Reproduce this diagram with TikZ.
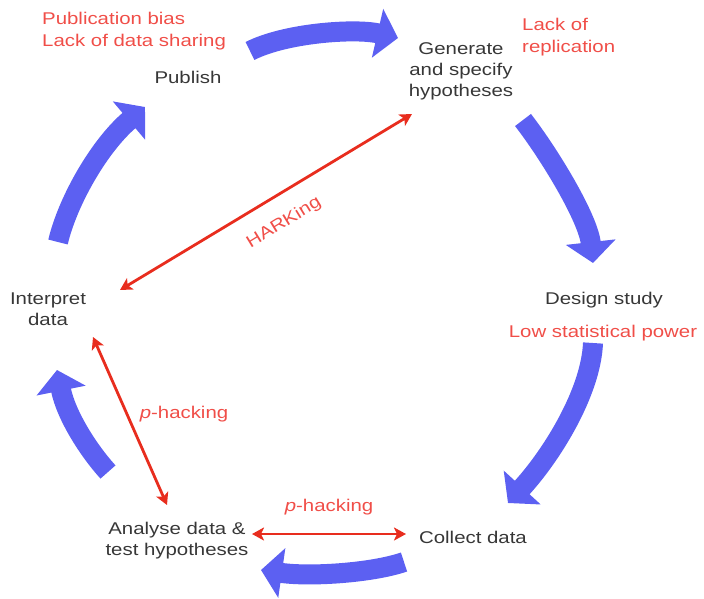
\documentclass[tikz,border=0pt]{standalone}
\usepackage{fontspec}
\setmainfont{Liberation Sans}[FakeStretch=1.2]
\usetikzlibrary{arrows.meta}
\definecolor{cycblue}{RGB}{92,96,242}
\definecolor{hackred}{RGB}{232,45,30}
\definecolor{labred}{RGB}{240,78,72}
\definecolor{txtgray}{RGB}{55,55,55}
\begin{document}
\begin{tikzpicture}[x=1pt,y=-1pt,
  stage/.style={text=txtgray,font=\fontsize{17}{21}\selectfont,inner sep=0pt,align=center},
  issue/.style={text=labred,font=\fontsize{17}{22}\selectfont,inner sep=0pt},
  cyc/.style={draw=cycblue,line width=20pt,line cap=butt,-{Triangle[width=49pt,length=21pt]}},
  hack/.style={draw=hackred,line width=2.8pt,{Stealth[length=12pt,width=13pt,inset=3pt]}-{Stealth[length=12pt,width=13pt,inset=3pt]}}]
\useasboundingbox (0,0) rectangle (704,598);

% stage texts
\node[stage] (publish) at (188,77) {Publish};
\node[stage] (generate) at (461,71) {Generate\\and specify\\hypotheses};
\node[stage] (design) at (604,300) {Design study};
\node[stage] (collect) at (473,537) {Collect data};
\node[stage] (analyse) at (177,541) {Analyse data \&\\test hypotheses};
\node[stage] (interpret) at (48,309) {Interpret\\data};

% issue texts
\node[issue,align=left,anchor=west] (bias) at (42,31) {Publication bias\\Lack of data sharing};
\node[issue,align=left,anchor=west] (lackrep) at (522,37) {Lack of\\replication};
\node[issue] (lowpower) at (603,333) {Low statistical power};

% cycle arrows
\coordinate (a1s) at (250,51);  \coordinate (a1e) at (398,38);
\coordinate (a2s) at (523,120); \coordinate (a2e) at (593,263);
\coordinate (a3s) at (593,343); \coordinate (a3e) at (508,503);
\coordinate (a4s) at (404,562); \coordinate (a4e) at (261,570);
\coordinate (a5s) at (108,472); \coordinate (a5e) at (57,370);
\coordinate (a6s) at (58,242);  \coordinate (a6e) at (145,107);
\draw[cyc] (a1s) .. controls (285,33) and (355,28) .. (a1e);
\draw[cyc] (a2s) .. controls (550,155) and (588,218) .. (a2e);
\draw[cyc] (a3s) .. controls (591,392) and (552,455) .. (a3e);
\draw[cyc] (a4s) .. controls (372,573) and (310,577) .. (a4e);
\draw[cyc] (a5s) .. controls (88,450) and (66,415) .. (a5e);
\draw[cyc] (a6s) .. controls (68,200) and (100,145) .. (a6e);

% questionable practices
\coordinate (h1) at (412,114); \coordinate (h2) at (120,290);
\coordinate (p1) at (93,337);  \coordinate (p2) at (167,505);
\coordinate (q1) at (252,534); \coordinate (q2) at (406,534);
\draw[hack] (h1) -- (h2);
\draw[hack] (p1) -- (p2);
\draw[hack] (q1) -- (q2);
\node[issue,rotate=31.5] (harking) at (284,223) {HARKing};
\node[issue] (phackl) at (184,414) {\textit{p}-hacking};
\node[issue] (phackb) at (329,507) {\textit{p}-hacking};
\end{tikzpicture}
\end{document}
